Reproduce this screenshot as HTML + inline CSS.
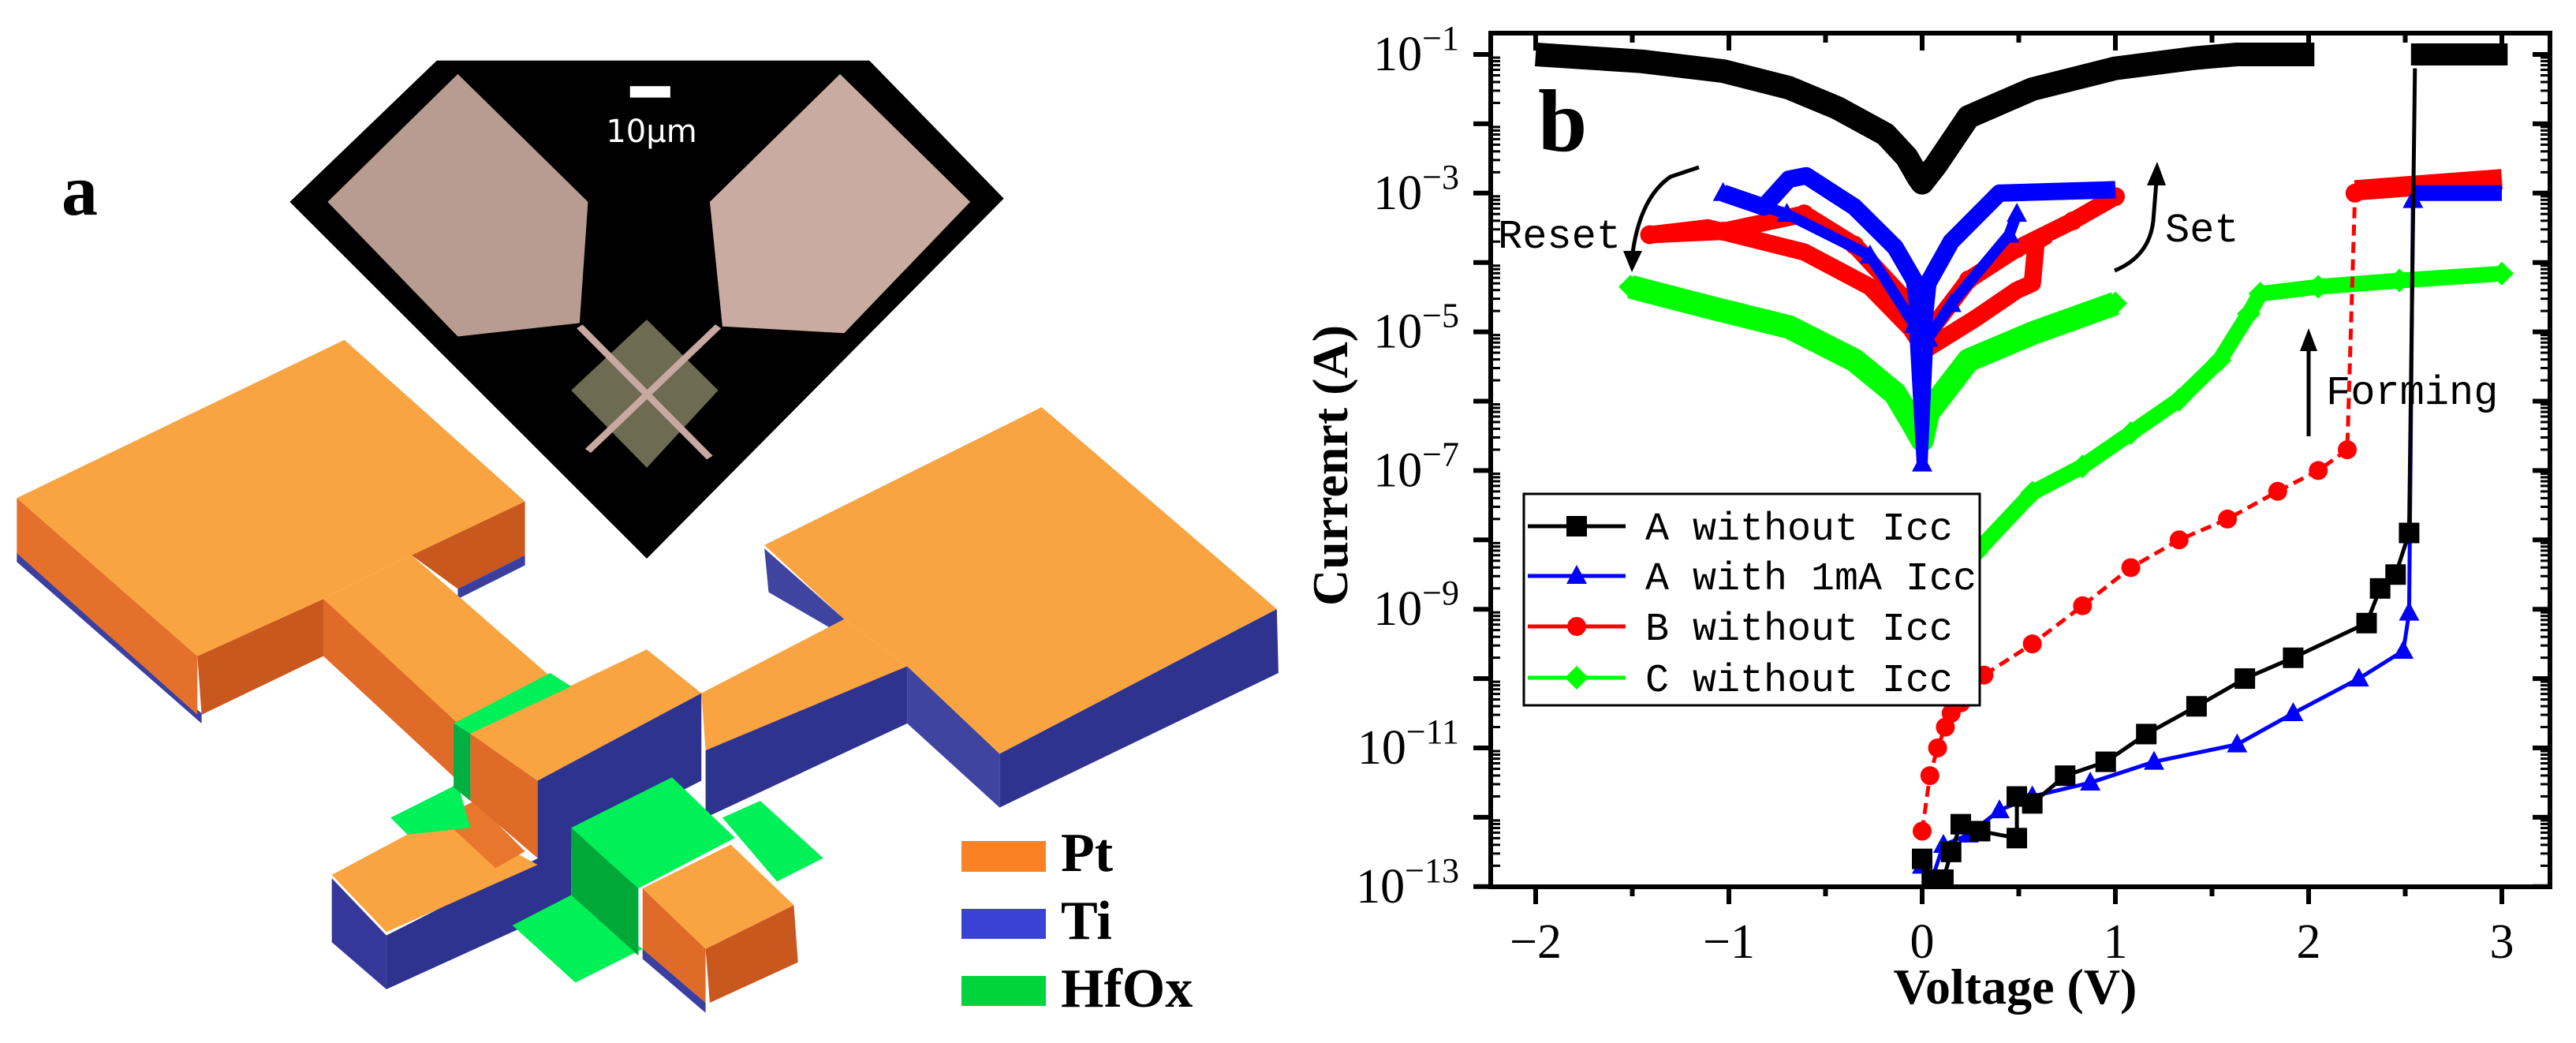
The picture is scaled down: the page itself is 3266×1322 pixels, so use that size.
<!DOCTYPE html>
<html><head><meta charset="utf-8"><style>
html,body{margin:0;padding:0;background:#fff;}
svg{display:block;}
</style></head><body>
<svg id="fig" width="3266" height="1322" viewBox="0 0 3266 1322" xmlns="http://www.w3.org/2000/svg">
<rect width="3266" height="1322" fill="#fff"/>
<g id="panel-a">
 <text x="78" y="272" font-family="Liberation Serif" font-weight="bold" font-size="92">a</text>
 <g transform="scale(1.065,0.853)">
  <polygon points="520,90 1035,90 1195,295 770,830 345,300" fill="#000"/>
  <polygon points="545,110 700,300 690,480 545,500 390,300" fill="#b99c91"/>
  <polygon points="1000,110 1155,300 1005,495 860,485 845,300" fill="#c9aba1"/>
  <polygon points="770,475 855,580 770,695 680,580" fill="#6d6b52"/>
  <line x1="690" y1="485" x2="845" y2="680" stroke="#c8a8a0" stroke-width="9"/>
  <line x1="855" y1="485" x2="700" y2="670" stroke="#c8a8a0" stroke-width="9"/>
  <rect x="750" y="128" width="48" height="17" fill="#fff"/>
 </g>
 <text x="826" y="180" text-anchor="middle" font-family="DejaVu Sans, Liberation Sans, sans-serif" font-size="40" fill="#fff">10μm</text>
 <g transform="scale(1.065,0.853)">
  <polygon points="20,820 240,1060 240,1075 20,835" fill="#3a3fa0"/>
  <polygon points="20,740 235,975 235,1062 20,822" fill="#e5702b"/>
  <polygon points="235,975 385,890 385,975 240,1062" fill="#c9581f"/>
  <polygon points="490,825 625,745 625,825 545,875" fill="#c9581f"/>
  <polygon points="545,875 625,825 625,840 545,890" fill="#3a3fa0"/>
  <polygon points="20,740 410,505 625,745 490,825 385,890 235,975" fill="#f9a441"/>
  <polygon points="385,890 545,1070 545,1160 385,975" fill="#e06a28"/>
  <polygon points="385,890 490,825 655,1005 545,1075" fill="#f9a441"/>
  <polygon points="395,1305 460,1390 460,1470 395,1400" fill="#35389a"/>
  <polygon points="460,1390 680,1250 680,1345 460,1470" fill="#2f3390"/>
  <polygon points="395,1300 530,1210 640,1285 460,1385" fill="#f9a441"/>
  <polygon points="525,1215 565,1190 625,1265 590,1290" fill="#e8762d"/>
  <polygon points="465,1215 545,1165 560,1230 485,1240" fill="#00f058"/>
  <polygon points="640,1160 835,1030 835,1160 640,1285" fill="#2f3390"/>
  <polygon points="560,1090 640,1160 640,1275 560,1190" fill="#e06a28"/>
  <polygon points="560,1090 770,965 835,1030 640,1160" fill="#f9a441"/>
  <polygon points="540,1075 655,1000 680,1020 560,1090" fill="#00f058"/>
  <polygon points="540,1075 560,1090 560,1190 540,1170" fill="#00b040"/>
  <polygon points="910,815 1005,920 1005,945 915,880" fill="#3f44a0"/>
  <polygon points="1080,990 1190,1120 1190,1200 1080,1075" fill="#3f44a0"/>
  <polygon points="1190,1120 1520,905 1522,1000 1190,1200" fill="#2f3390"/>
  <polygon points="910,810 1240,605 1520,905 1190,1120 1080,990 1005,920" fill="#f9a441"/>
  <polygon points="840,1110 1080,990 1080,1075 840,1215" fill="#2f3390"/>
  <polygon points="835,1030 1005,920 1080,990 840,1115" fill="#f9a441"/>
  <polygon points="610,1375 680,1330 765,1410 685,1460" fill="#00f058"/>
  <polygon points="860,1215 905,1190 980,1275 925,1310" fill="#00f058"/>
  <polygon points="680,1230 760,1320 760,1420 680,1330" fill="#00a838"/>
  <polygon points="680,1230 800,1155 875,1245 760,1320" fill="#00f058"/>
  <polygon points="765,1410 840,1490 840,1505 765,1425" fill="#3a3fa0"/>
  <polygon points="765,1320 840,1410 840,1490 765,1410" fill="#e06a28"/>
  <polygon points="840,1410 945,1345 950,1430 845,1490" fill="#c9581f"/>
  <polygon points="765,1320 870,1255 945,1345 840,1410" fill="#f9a441"/>
 </g>
 <rect x="1219" y="1066" width="107" height="39" fill="#fb8224"/>
 <rect x="1219" y="1152" width="107" height="38" fill="#3a42d6"/>
 <rect x="1219" y="1237" width="107" height="38" fill="#00d43c"/>
 <text x="1345" y="1104" font-family="Liberation Serif" font-weight="bold" font-size="70">Pt</text>
 <text x="1345" y="1190" font-family="Liberation Serif" font-weight="bold" font-size="70">Ti</text>
 <text x="1345" y="1276" font-family="Liberation Serif" font-weight="bold" font-size="70">HfOx</text>
</g>
<g id="chart"></g>
</svg>
<script>
// ---- data (voltage in V, current as log10(A)) ----
const xTicks = [-2, -1, 0, 1, 2, 3];
const yTickExps = [-1, -3, -5, -7, -9, -11, -13];
const legendLabels = ["A without Icc", "A with 1mA Icc", "B without Icc", "C without Icc"];

const aFormV = [0, 0.05, 0.11, 0.15, 0.2, 0.3, 0.49, 0.49, 0.57, 0.74, 0.95, 1.16, 1.42, 1.67, 1.92, 2.3, 2.37, 2.45, 2.52, 2.55];
const aFormI = [-12.6, -12.9, -12.9, -12.5, -12.1, -12.2, -12.3, -11.7, -11.8, -11.4, -11.2, -10.8, -10.4, -10.0, -9.7, -9.2, -8.7, -8.5, -7.9, -1.2];
const aCompV = [2.53, 3.03];
const aCompI = [-1.0, -1.0];
const aCycV = [-2.0, -1.45, -1.03, -0.69, -0.44, -0.19, -0.08, -0.02, 0.0, 0.07, 0.24, 0.57, 1.0, 1.42, 1.63, 2.03];
const aCycI = [-1.0, -1.1, -1.24, -1.48, -1.77, -2.15, -2.48, -2.77, -2.85, -2.6, -1.9, -1.5, -1.2, -1.05, -1.0, -1.0];

const bFormV = [0, 0.05, 0.11, 0.24, 0.4, 0.57, 0.87, 1.2, 1.63, 1.92, 2.26, 2.49, 2.52, 2.54];
const bFormI = [-12.7, -12.9, -12.4, -12.25, -11.9, -11.7, -11.5, -11.2, -10.95, -10.5, -10.0, -9.6, -9.05, -3.1];
const bCompV = [2.54, 3.0];
const bCompI = [-3.0, -3.0];
const bCycUpV = [-1.03, -0.82, -0.69, -0.6, -0.35, -0.14, -0.04, 0.0, 0.03, 0.15, 0.4, 1.0];
const bCycUpI = [-3.0, -3.2, -2.8, -2.75, -3.2, -3.78, -4.26, -5.1, -4.3, -3.7, -3.0, -2.95];
const bCycLoV = [-1.03, -0.7, -0.27, -0.04, 0.0, 0.03, 0.15, 0.45, 0.49];
const bCycLoI = [-3.0, -3.3, -3.9, -4.9, -6.9, -5.1, -4.6, -3.6, -3.3];

const cFormV = [0, 0.04, 0.08, 0.12, 0.15, 0.2, 0.32, 0.57, 0.83, 1.08, 1.33, 1.58, 1.84, 2.05, 2.2, 2.24];
const cFormI = [-12.2, -11.4, -11.0, -10.7, -10.5, -10.35, -9.95, -9.5, -8.95, -8.4, -8.0, -7.7, -7.3, -7.0, -6.7, -3.0];
const cCompV = [2.24, 3.0];
const cCompI = [-2.96, -2.8];
const cCycUpV = [-1.41, -1.03, -0.61, -0.35, -0.1, -0.02, 0.05, 0.24, 0.49, 0.78, 1.0];
const cCycUpI = [-3.6, -3.55, -3.3, -3.75, -4.5, -4.9, -4.95, -4.25, -3.8, -3.4, -3.05];
const cCycLoV = [-1.41, -1.11, -0.61, -0.27, -0.06, 0.0, 0.02, 0.28, 0.49, 0.57, 0.59, 0.65];
const cCycLoI = [-3.6, -3.5, -3.85, -4.35, -4.95, -5.2, -5.25, -4.8, -4.4, -4.3, -3.7, -3.6];

const dFormV = [0.1, 0.28, 0.57, 0.83, 1.08, 1.33, 1.54, 1.69, 1.75, 2.05, 2.47, 3.0];
const dFormI = [-9.2, -8.18, -7.32, -6.94, -6.46, -5.98, -5.41, -4.74, -4.45, -4.35, -4.26, -4.16];
const dCycV = [-1.51, -1.11, -0.69, -0.35, -0.14, -0.04, 0.0, 0.03, 0.24, 0.57, 1.0];
const dCycI = [-4.35, -4.64, -4.93, -5.41, -5.89, -6.36, -6.56, -6.17, -5.41, -5.02, -4.59];

// ---- layout ----
const L = 1890, R = 3233, T = 42, B = 1124;
const X0 = 2437, XS = 245;
const Y1 = 69, YS = 87.9;
const xs = v => X0 + v * XS;
const ys = e => Y1 + (-1 - e) * YS;
const NS = "http://www.w3.org/2000/svg";
const chart = document.getElementById('chart');
function mk(tag, attrs, parent) {
  const el = document.createElementNS(NS, tag);
  for (const k in attrs) el.setAttribute(k, attrs[k]);
  (parent || chart).appendChild(el);
  return el;
}
function pts(V, I) { return V.map((v, i) => xs(v).toFixed(1) + "," + ys(I[i]).toFixed(1)).join(" "); }

const clip = mk('clipPath', {id: 'plotclip'});
mk('rect', {x: L, y: T, width: R - L, height: B - T}, clip);
const plot = mk('g', {'clip-path': 'url(#plotclip)'});



function band(V, I, color, w, name) {
  const p = mk('polyline', {points: pts(V, I), fill: 'none', stroke: color, 'stroke-width': w, 'stroke-linejoin': 'round', 'stroke-linecap': 'butt'}, plot);
  
  
}
function thin(V, I, color, name, dash) {
  const p = mk('polyline', {points: pts(V, I), fill: 'none', stroke: color, 'stroke-width': 5, 'stroke-dasharray': dash || 'none'}, plot);
  
  
}
function marker(shape, cx, cy, color, parent) {
  let m;
  if (shape === 'sq') m = mk('rect', {x: cx - 13, y: cy - 13, width: 26, height: 26, fill: color}, parent);
  else if (shape === 'tri') m = mk('polygon', {points: `${cx},${cy - 14} ${cx + 13},${cy + 10} ${cx - 13},${cy + 10}`, fill: color}, parent);
  else if (shape === 'cir') m = mk('circle', {cx: cx, cy: cy, r: 12, fill: color}, parent);
  else m = mk('polygon', {points: `${cx},${cy - 15} ${cx + 15},${cy} ${cx},${cy + 15} ${cx - 15},${cy}`, fill: color}, parent);
  return m;
}
function markers(V, I, shape, color, name) {
  V.forEach((v, i) => {
    const m = marker(shape, xs(v), ys(I[i]), color, plot);
    
    
  });
}

band(dCycV, dCycI, '#00ff00', 30, 'series-c-cycle');
thin(dFormV, dFormI, '#00ff00', 'series-c-forming-line');
band(dFormV.slice(1), dFormI.slice(1), '#00ff00', 20, 'series-c-forming');
markers(dFormV, dFormI, 'dia', '#00ff00', 'series-c-marker');
markers(dCycV, dCycI, 'dia', '#00ff00', 'series-c-marker');

band(cCycLoV, cCycLoI, '#ff0000', 22, 'series-b-cycle-lower');
band(cCycUpV, cCycUpI, '#ff0000', 22, 'series-b-cycle-upper');
thin(cFormV, cFormI, '#ff0000', 'series-b-forming', '14,8');
markers(cFormV, cFormI, 'cir', '#ff0000', 'series-b-marker');
band(cCompV, cCompI, '#ff0000', 26, 'series-b-compliance');
markers(cCycUpV, cCycUpI, 'cir', '#ff0000', 'series-b-marker');

band(bCycUpV, bCycUpI, '#0000ff', 22, 'series-a-icc-cycle-upper');
band(bCycLoV, bCycLoI, '#0000ff', 14, 'series-a-icc-cycle-lower');
thin(bFormV, bFormI, '#0000ff', 'series-a-icc-forming');
markers(bFormV, bFormI, 'tri', '#0000ff', 'series-a-icc-marker');
band(bCompV, bCompI, '#0000ff', 20, 'series-a-icc-compliance');
markers(bCycLoV, bCycLoI, 'tri', '#0000ff', 'series-a-icc-marker');

band(aCycV, aCycI, '#000000', 30, 'series-a-cycle');
thin(aFormV, aFormI, '#000000', 'series-a-forming');
markers(aFormV.slice(0, -1), aFormI.slice(0, -1), 'sq', '#000000', 'series-a-marker');
band(aCompV, aCompI, '#000000', 28, 'series-a-compliance');

const frame = mk('rect', {x: L, y: T, width: R - L, height: B - T, fill: 'none', stroke: '#000', 'stroke-width': 6});



const xAxis = mk('g', {});


for (let v = -2; v <= 3.01; v += 0.5) {
  const major = Math.abs(v - Math.round(v)) < 1e-6;
  mk('line', {x1: xs(v), y1: B, x2: xs(v), y2: B + (major ? 22 : 12), stroke: '#000', 'stroke-width': 6}, xAxis);
  mk('line', {x1: xs(v), y1: T, x2: xs(v), y2: T + (major ? 22 : 12), stroke: '#000', 'stroke-width': 6}, xAxis);
}
xTicks.forEach(v => {
  const t = mk('text', {x: xs(v), y: 1214, 'text-anchor': 'middle', 'font-family': 'Liberation Serif', 'font-size': 62}, xAxis);
  t.textContent = v < 0 ? '\u2212' + Math.abs(v) : String(v);
  
  
});

const yAxis = mk('g', {});


for (let e = -13; e <= -1; e++) {
  const y = ys(e);
  mk('line', {x1: L - 22, y1: y, x2: L, y2: y, stroke: '#000', 'stroke-width': 6}, yAxis);
  mk('line', {x1: R - 22, y1: y, x2: R, y2: y, stroke: '#000', 'stroke-width': 6}, yAxis);
  if (e < -1) {
    for (let k = 2; k <= 9; k++) {
      const yy = ys(e + Math.log10(k));
      mk('line', {x1: L, y1: yy, x2: L + 12, y2: yy, stroke: '#000', 'stroke-width': 3}, yAxis);
      mk('line', {x1: R - 12, y1: yy, x2: R, y2: yy, stroke: '#000', 'stroke-width': 3}, yAxis);
    }
  }
}
yTickExps.forEach(e => {
  const t = mk('text', {x: 1850, y: ys(e) + 20, 'text-anchor': 'end', 'font-family': 'Liberation Serif', 'font-size': 62}, yAxis);
  
  
  const a = mk('tspan', {}, t); a.textContent = '10';
  const b = mk('tspan', {dy: -26, 'font-size': 44}, t); b.textContent = '\u2212' + Math.abs(e);
});

const xt = mk('text', {x: 2555, y: 1272, 'text-anchor': 'middle', 'font-family': 'Liberation Serif', 'font-weight': 'bold', 'font-size': 64});
xt.textContent = 'Voltage (V)';


const yt = mk('text', {x: 0, y: 0, 'text-anchor': 'middle', 'font-family': 'Liberation Serif', 'font-weight': 'bold', 'font-size': 64, transform: 'translate(1708,590) rotate(-90)'});
yt.textContent = 'Currenrt (A)';



const pb = mk('text', {x: 1950, y: 191, 'font-family': 'Liberation Serif', 'font-weight': 'bold', 'font-size': 112});
pb.textContent = 'b';



const ann = mk('g', {fill: 'none', stroke: '#000', 'stroke-width': 5});


mk('path', {d: 'M2154,212 L2118,224 Q2080,250 2070,320'}, ann);
mk('polygon', {points: '2058,318 2082,318 2069,345', fill: '#000', stroke: 'none'}, ann);
mk('path', {d: 'M2681,343 Q2725,325 2730,280 L2734,230'}, ann);
mk('polygon', {points: '2722,235 2746,235 2735,205', fill: '#000', stroke: 'none'}, ann);
mk('line', {x1: 2927, y1: 553, x2: 2927, y2: 440}, ann);
mk('polygon', {points: '2916,445 2938,445 2927,416', fill: '#000', stroke: 'none'}, ann);
[['Reset', 1899, 314, 'reset-label'], ['Set', 2745, 306, 'set-label'], ['Forming', 2949, 512, 'forming-label']].forEach(a => {
  const t = mk('text', {x: a[1], y: a[2], 'font-family': 'Liberation Mono', 'font-size': 52, fill: '#000', stroke: 'none'}, ann);
  t.textContent = a[0];
  
  
});

const lg = mk('g', {});


mk('rect', {x: 1932, y: 626, width: 578, height: 268, fill: '#fff', stroke: '#000', 'stroke-width': 3}, lg);
const lgColors = ['#000000', '#0000ff', '#ff0000', '#00ff00'];
const lgShapes = ['sq', 'tri', 'cir', 'dia'];
const lgY = [667, 730, 794, 859];
legendLabels.forEach((lab, i) => {
  const g = mk('g', {}, lg);
  
  
  mk('line', {x1: 1937, y1: lgY[i], x2: 2061, y2: lgY[i], stroke: lgColors[i], 'stroke-width': 5}, g);
  marker(lgShapes[i], 1999, lgY[i], lgColors[i], g);
  const t = mk('text', {x: 2086, y: lgY[i] + 17, 'font-family': 'Liberation Mono', 'font-size': 50}, g);
  t.textContent = lab;
});
</script>
</body></html>
